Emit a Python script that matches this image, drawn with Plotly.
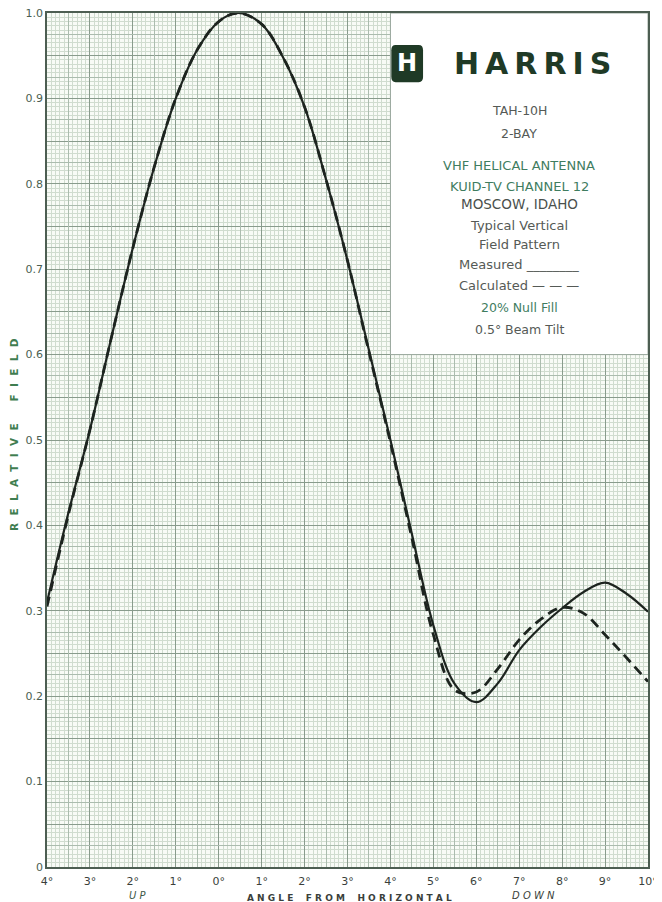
import plotly.graph_objects as go

# ---------------- data ----------------
angle = [-4, -3.5, -3, -2.5, -2, -1.5, -1, -0.5, 0, 0.45, 1, 1.5, 2, 2.5, 3, 3.5, 4,
         4.5, 5, 5.5, 6, 6.5, 7, 7.5, 8, 8.5, 9, 9.5, 10]
measured = [0.31, 0.415, 0.512, 0.62, 0.725, 0.82, 0.90, 0.957, 0.99, 1.0, 0.987, 0.948,
            0.89, 0.805, 0.71, 0.605, 0.50, 0.39, 0.283, 0.214, 0.193, 0.215, 0.254,
            0.281, 0.303, 0.322, 0.333, 0.32, 0.299]
calculated = [0.305, 0.413, 0.512, 0.62, 0.725, 0.82, 0.90, 0.957, 0.99, 1.0, 0.987, 0.948,
              0.89, 0.805, 0.71, 0.603, 0.497, 0.385, 0.272, 0.207, 0.205, 0.232, 0.266,
              0.290, 0.304, 0.297, 0.272, 0.245, 0.217]

x_tick_vals = list(range(-4, 11))
x_tick_text = ["4°", "3°", "2°", "1°", "0°", "1°", "2°", "3°", "4°", "5°", "6°", "7°", "8°", "9°", "10°"]
y_tick_vals = [round(i * 0.05, 3) for i in range(21)]
y_tick_text = ["0", "", "0.1", "", "0.2", "", "0.3", "", "0.4", "", "0.5", "", "0.6", "",
               "0.7", "", "0.8", "", "0.9", "", "1.0"]

box_lines = [
    ("TAH-10H", 0.886, "#555a56", 12.5),
    ("2-BAY", 0.859, "#555a56", 12.5),
    ("VHF HELICAL ANTENNA", 0.821, "#3f7d5f", 13),
    ("KUID-TV CHANNEL 12", 0.797, "#3f7d5f", 13),
    ("MOSCOW, IDAHO", 0.776, "#4a504c", 13.5),
    ("Typical Vertical", 0.751, "#555a56", 13),
    ("Field Pattern", 0.729, "#555a56", 13),
    ("Measured ________", 0.705, "#555a56", 13),
    ("Calculated \u2014 \u2014 \u2014", 0.681, "#555a56", 13),
    ("20% Null Fill", 0.655, "#3f7d5f", 12.5),
    ("0.5° Beam Tilt", 0.629, "#555a56", 12.5),
]

# ---------------- styles ----------------
MAJOR = "#899b8c"
MEDIUM = "#abbcae"
MINOR = "#d0dccf"
CURVE = "#1d241f"

x_minor = [round(-4 + i * 0.1, 3) for i in range(141) if i % 5 != 0]
x_medium = [-4 + 0.5 * i for i in range(29) if i % 2 == 1]
y_minor = [round(i * 0.005, 4) for i in range(201) if i % 5 != 0]
y_medium = [round(0.025 * i, 4) for i in range(41) if i % 2 == 1]

fig = go.Figure()

fig.add_trace(go.Scatter(x=[None], y=[None], xaxis="x2", yaxis="y2",
                         showlegend=False, hoverinfo="skip"))

fig.add_trace(go.Scatter(x=angle, y=calculated, mode="lines", name="Calculated",
                         line=dict(color=CURVE, width=2.8, dash="10px,6px", shape="spline",
                                   smoothing=1.0),
                         showlegend=False))
fig.add_trace(go.Scatter(x=angle, y=measured, mode="lines", name="Measured",
                         line=dict(color=CURVE, width=2.2, shape="spline", smoothing=1.0),
                         showlegend=False))

# the page body adds an 8px offset, so the figure is sized to fit the window
fig.update_layout(
    width=654, height=894,
    margin=dict(l=39, r=14, t=5, b=35, autoexpand=False),
    paper_bgcolor="white",
    plot_bgcolor="#f8fbf6",
    font=dict(family="DejaVu Sans", color="#3d4a41"),
    xaxis=dict(range=[-4, 10], tickmode="array", tickvals=x_tick_vals, ticktext=x_tick_text,
               showgrid=True, gridcolor=MAJOR, gridwidth=1.2, zeroline=False,
               showline=True, linecolor="#4d5e52", linewidth=1.6, mirror=True,
               ticks="", tickfont=dict(size=11, color="#3a3f3b"), automargin=False,
               ticklabeloverflow="allow", ticklabelstandoff=3,
               minor=dict(tickmode="array", tickvals=x_minor, showgrid=True,
                          gridcolor=MINOR, gridwidth=0.8, ticks=""),
               fixedrange=True),
    yaxis=dict(range=[0, 1], tickmode="array", tickvals=y_tick_vals, ticktext=y_tick_text,
               showgrid=True, gridcolor=MAJOR, gridwidth=1.2, zeroline=False,
               showline=True, linecolor="#4d5e52", linewidth=1.6, mirror=True,
               ticks="", tickfont=dict(size=11, color="#4b5f52"), automargin=False,
               ticklabeloverflow="allow",
               minor=dict(tickmode="array", tickvals=y_minor, showgrid=True,
                          gridcolor=MINOR, gridwidth=0.8, ticks=""),
               fixedrange=True),
    xaxis2=dict(range=[-4, 10], overlaying="x", tickmode="array", tickvals=x_medium,
                showgrid=True, gridcolor=MEDIUM, gridwidth=1, showticklabels=False,
                ticks="", zeroline=False, showline=False, automargin=False),
    yaxis2=dict(range=[0, 1], overlaying="y", tickmode="array", tickvals=y_medium,
                showgrid=True, gridcolor=MEDIUM, gridwidth=1, showticklabels=False,
                ticks="", zeroline=False, showline=False, automargin=False),
)

# white info box
fig.add_shape(type="rect", x0=4, x1=10, y0=0.6, y1=1.0, xref="x", yref="y",
              fillcolor="white", line=dict(color="#9aa89d", width=1), layer="above")
# logo block
fig.add_shape(type="path", xref="x", yref="y", layer="above",
              path="M 4.12,0.9625 L 4.66,0.9625 Q 4.76,0.9625 4.76,0.9565 L 4.76,0.925 "
                   "Q 4.76,0.919 4.66,0.919 L 4.12,0.919 Q 4.02,0.919 4.02,0.925 "
                   "L 4.02,0.9565 Q 4.02,0.9625 4.12,0.9625 Z",
              fillcolor="#1f3a26", line=dict(width=0))

ann = []
ann.append(dict(x=4.39, y=0.941, xref="x", yref="y", text="<b>H</b>", showarrow=False,
                font=dict(size=24, color="white", family="DejaVu Sans")))
ann.append(dict(x=7.32, y=0.941, xref="x", yref="y",
                text="<b>H\u2009A\u2009R\u2009R\u2009I\u2009S</b>", showarrow=False,
                font=dict(size=30, color="#1f3a26", family="DejaVu Sans")))
for txt, yy, col, sz in box_lines:
    ann.append(dict(x=7, y=yy, xref="x", yref="y", text=txt, showarrow=False,
                    font=dict(size=sz, color=col, family="DejaVu Sans")))

nb = "\u00a0"
ann.append(dict(x=-0.055, y=0.507, xref="paper", yref="paper", textangle=-90,
                xanchor="center", yanchor="middle",
                text="<b>" + (nb * 2).join(list("RELATIVE")) + nb * 6 + (nb * 2).join(list("FIELD")) + "</b>",
                showarrow=False, font=dict(size=10.5, color="#3f7d50", family="DejaVu Sans")))
ann.append(dict(x=0.150, y=-0.033, xref="paper", yref="paper", text="<i>U" + nb + "P</i>",
                xanchor="center", yanchor="middle",
                showarrow=False, font=dict(size=10, color="#3f5a48", family="DejaVu Sans")))
ann.append(dict(x=0.504, y=-0.0365, xref="paper", yref="paper",
                xanchor="center", yanchor="middle",
                text="<b>" + nb.join(list("ANGLE")) + nb * 4 + nb.join(list("FROM")) + nb * 4
                     + nb.join(list("HORIZONTAL")) + "</b>",
                showarrow=False, font=dict(size=9, color="#3a3f3b", family="DejaVu Sans")))
ann.append(dict(x=0.809, y=-0.033, xref="paper", yref="paper",
                xanchor="center", yanchor="middle",
                text="<i>" + nb.join(list("DOWN")) + "</i>",
                showarrow=False, font=dict(size=10, color="#3a3f3b", family="DejaVu Sans")))

fig.update_layout(annotations=ann)

fig.write_html("out.html")
